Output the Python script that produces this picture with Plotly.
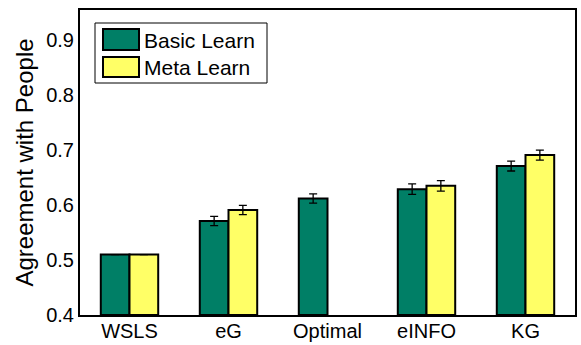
import plotly.graph_objects as go

categories = ["WSLS", "eG", "Optimal", "eINFO", "KG"]
basic = [0.510, 0.571, 0.612, 0.629, 0.671]
basic_err = [0.0, 0.0085, 0.0085, 0.0095, 0.009]
meta = [0.510, 0.591, None, 0.635, 0.691]
meta_err = [0.0, 0.0085, 0.0, 0.0095, 0.009]
series_names = ["Basic Learn", "Meta Learn"]
colors = ["#007F66", "#FFFF66"]
y_ticks = [0.4, 0.5, 0.6, 0.7, 0.8, 0.9]

W, H = 581, 345
L, R, T, B = 80, 6, 10, 30
pw, ph = W - L - R, H - T - B

def px(x):
    return (x - L) / pw

def py(y):
    return 1 - (y - T) / ph

FAM = "Liberation Sans, Arial, sans-serif"
tick_font = dict(family=FAM, size=20, color="black")
leg_font = dict(family=FAM, size=21, color="black")
title_font = dict(family=FAM, size=24, color="black")

xs = list(range(1, len(categories) + 1))
fig = go.Figure()
for vals, errs, name, col in [(basic, basic_err, series_names[0], colors[0]),
                              (meta, meta_err, series_names[1], colors[1])]:
    fig.add_trace(go.Bar(
        x=xs, y=[v - 0.4 if v is not None else None for v in vals], base=0.4,
        name=name, marker=dict(color=col, line=dict(color="black", width=2)),
        error_y=dict(type="data", array=errs, color="black", thickness=1.3, width=4),
        showlegend=False,
    ))

fig.update_layout(
    width=W, height=H, margin=dict(l=L, r=R, t=T, b=B, autoexpand=False),
    paper_bgcolor="white", plot_bgcolor="white",
    barmode="group", bargap=0.42, bargroupgap=0,
    font=tick_font,
    xaxis=dict(range=[0.5, 5.5], tickvals=xs, ticktext=categories, showline=True,
               linecolor="black", linewidth=2, mirror=True, ticks="", showgrid=False,
               zeroline=False, tickfont=tick_font, automargin=False, ticklabelstandoff=-3),
    yaxis=dict(range=[0.4, 0.955], tickvals=y_ticks, ticktext=[f"{t:.1f}" for t in y_ticks],
               showline=True, linecolor="black", linewidth=2, mirror=True, ticks="",
               showgrid=False, zeroline=False, tickfont=tick_font, automargin=False,
               title=dict(text="Agreement with People", font=title_font, standoff=6)),
)

# manual legend
shapes = [
    dict(type="rect", xref="paper", yref="paper", x0=px(95), x1=px(267), y0=py(83), y1=py(23),
         line=dict(color="black", width=1), fillcolor="white"),
    dict(type="rect", xref="paper", yref="paper", x0=px(103), x1=px(139), y0=py(50), y1=py(29),
         line=dict(color="black", width=2), fillcolor=colors[0]),
    dict(type="rect", xref="paper", yref="paper", x0=px(103), x1=px(139), y0=py(77), y1=py(57),
         line=dict(color="black", width=2), fillcolor=colors[1]),
]
annotations = [
    dict(xref="paper", yref="paper", x=px(142), y=py(40), text=series_names[0], showarrow=False,
         xanchor="left", yanchor="middle", font=leg_font),
    dict(xref="paper", yref="paper", x=px(142), y=py(67), text=series_names[1], showarrow=False,
         xanchor="left", yanchor="middle", font=leg_font),
]
fig.update_layout(shapes=shapes, annotations=annotations)
fig.write_html("out.html", config={"displayModeBar": False},
               post_script="document.body.style.margin='0';")
